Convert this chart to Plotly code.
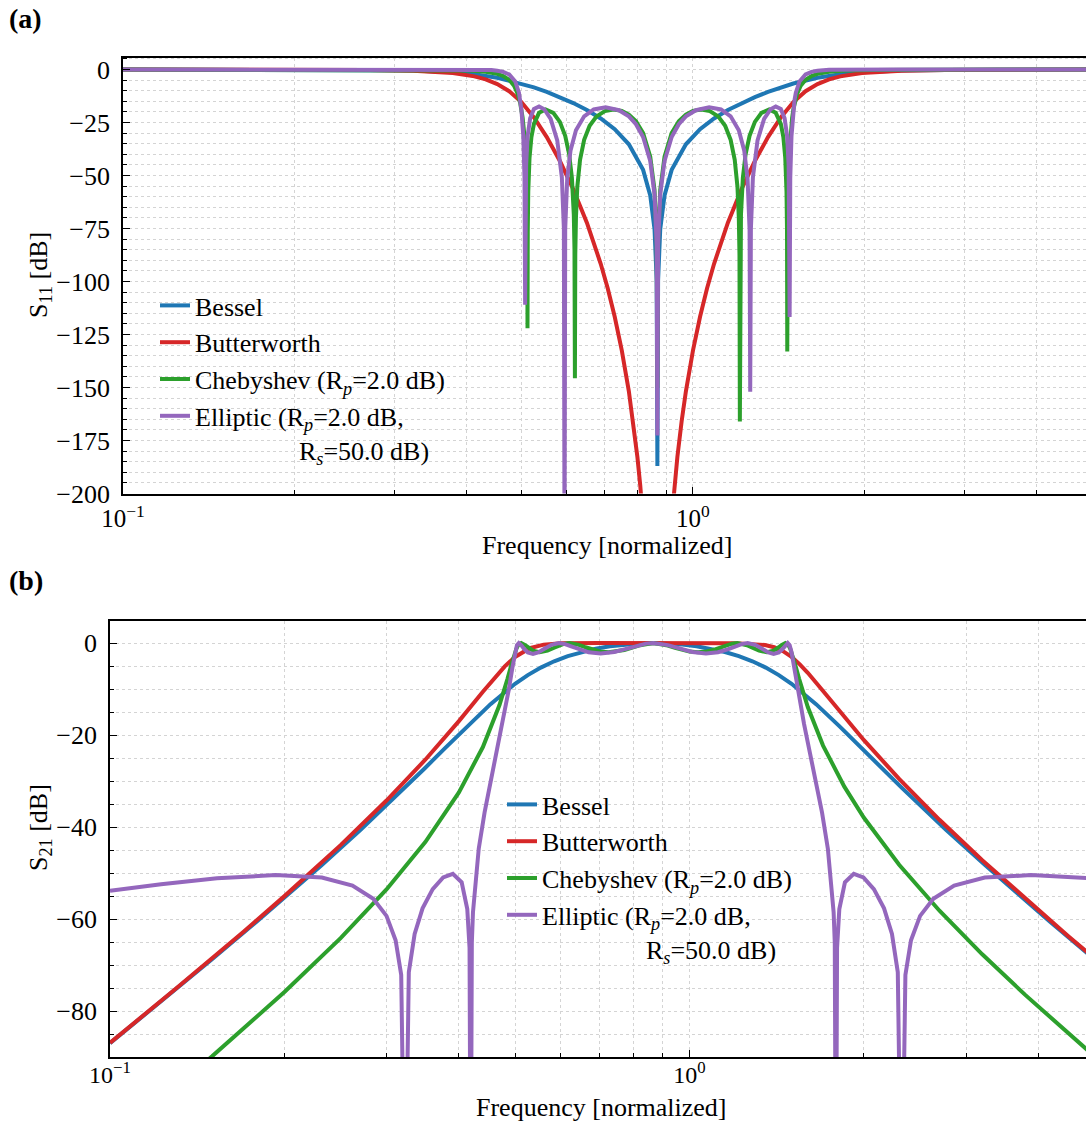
import plotly.graph_objects as go

# ---------------- Panel (a): S11 ----------------
s11_bessel_f = [0.1, 0.17945, 0.23205, 0.27069, 0.32288, 0.37899, 0.41356, 0.45357, 0.5, 0.52596,
                0.55394, 0.58408, 0.61652, 0.65139, 0.68882, 0.72892, 0.77178, 0.81747, 0.841386, 0.856083,
                0.863529, 0.866, 0.868529, 0.876083, 0.891386, 0.91747, 0.97178, 1.02892, 1.08882, 1.15139,
                1.21652, 1.28408, 1.35394, 1.42596, 1.5, 1.65357, 1.81356, 1.97899, 2.32288, 2.77069,
                3.23205, 4.17945, 5.0]
s11_bessel_db = [0, -0.016, -0.067, -0.162, -0.466, -1.262, -2.184, -3.83, -6.56, -8.39,
                 -10.54, -12.99, -15.81, -19.10, -23.07, -28.15, -35.25, -47.31, -59.4, -75.3,
                 -99.4, -187, -99.4, -75.3, -59.4, -47.31, -35.25, -28.15, -23.07, -19.10,
                 -15.81, -12.99, -10.54, -8.39, -6.56, -3.83, -2.184, -1.262, -0.466, -0.162,
                 -0.067, -0.016, 0]

s11_butter_f = [0.1, 0.17945, 0.23205, 0.27069, 0.32288, 0.349, 0.37899, 0.41356, 0.43282, 0.45357,
                0.47592, 0.5, 0.52596, 0.55394, 0.58408, 0.61652, 0.65139, 0.68882, 0.70853, 0.72892,
                0.75, 0.77178, 0.785187, 0.79885, 0.808102, 0.81747, 0.866, 0.91747, 0.928102, 0.93885,
                0.955187, 0.97178, 1.0, 1.02892, 1.05853, 1.08882, 1.15139, 1.21652, 1.28408, 1.35394,
                1.42596, 1.5, 1.57592, 1.65357, 1.73282, 1.81356, 1.97899, 2.149, 2.32288, 2.77069,
                3.23205, 4.17945, 5.0]
s11_butter_db = [0, -0.017, -0.072, -0.178, -0.543, -0.919, -1.654, -3.21, -4.62, -6.81,
                 -10.19, -15.31, -22.54, -31.87, -43.14, -56.45, -72.25, -91.6, -103.2, -116.6,
                 -132.5, -151.8, -165.9, -182.8, -196.2, -212, -300, -212, -196.2, -182.8,
                 -165.9, -151.8, -132.5, -116.6, -103.2, -91.6, -72.25, -56.45, -43.14, -31.87,
                 -22.54, -15.31, -10.19, -6.81, -4.62, -3.21, -1.654, -0.919, -0.543, -0.178,
                 -0.072, -0.017, 0]

s11_cheby_f = [0.1, 0.160913, 0.219341, 0.27069, 0.32288, 0.36347, 0.404436, 0.43282, 0.45357, 0.46453,
               0.47592, 0.48534, 0.49259, 0.49751, 0.5, 0.50251, 0.50631, 0.508866, 0.510925, 0.51196,
               0.512478, 0.512997, 0.514038, 0.516653, 0.52062, 0.52596, 0.53691, 0.551335, 0.56873, 0.58408,
               0.596769, 0.606534, 0.613164, 0.617863, 0.619552, 0.620637, 0.621588, 0.623291, 0.626716, 0.63364,
               0.644213, 0.658666, 0.677315, 0.700565, 0.725199, 0.75, 0.77178, 0.794267, 0.81747, 0.841386,
               0.856083, 0.863529, 0.866, 0.868529, 0.876083, 0.891386, 0.91747, 0.944267, 0.97178, 1.0,
               1.034199, 1.070565, 1.107315, 1.138666, 1.164213, 1.18364, 1.196716, 1.203291, 1.206588, 1.208437,
               1.210552, 1.213863, 1.223164, 1.236534, 1.256769, 1.28408, 1.31873, 1.360335, 1.39691, 1.42596,
               1.44062, 1.451653, 1.459038, 1.461997, 1.463478, 1.46496, 1.467925, 1.473866, 1.48131, 1.49251,
               1.5, 1.50751, 1.52259, 1.54534, 1.57592, 1.61453, 1.65357, 1.73282, 1.854436, 2.06347,
               2.32288, 2.77069, 3.419341, 4.660913, 5.0]
s11_cheby_db = [0, 0, 0, -0.018, -0.063, -0.165, -0.466, -1.033, -2.014, -3.008,
                -4.83, -7.61, -11.47, -15.77, -18.81, -22.78, -31.60, -41.5, -56.9, -76.6,
                -122, -76.0, -57.6, -41.6, -31.88, -25.60, -20.39, -18.81, -20.44, -24.68,
                -31.20, -40.07, -51.12, -68.4, -84.8, -145.6, -87.3, -69.5, -55.26, -42.53,
                -33.17, -26.54, -22.10, -19.56, -18.81, -19.48, -21.21, -24.39, -30.01, -41.11,
                -56.75, -80.8, -150, -80.8, -56.75, -41.11, -30.01, -24.39, -21.21, -19.48,
                -18.81, -19.56, -22.10, -26.54, -33.17, -42.53, -55.26, -69.5, -87.3, -166,
                -84.8, -68.4, -51.12, -40.07, -31.20, -24.68, -20.44, -18.81, -20.39, -25.60,
                -31.88, -41.6, -57.6, -76.0, -133, -76.6, -56.9, -41.5, -31.60, -22.78,
                -18.81, -15.77, -11.47, -7.61, -4.83, -3.008, -2.014, -1.033, -0.466, -0.165,
                -0.063, -0.018, 0, 0, 0]

s11_ellip_f = [0.1, 0.23205, 0.32288, 0.43282, 0.443, 0.45357, 0.46453, 0.47592, 0.487732, 0.495038,
               0.49751, 0.5, 0.503771, 0.50631, 0.507585, 0.509637, 0.512738, 0.517968, 0.52596, 0.53691,
               0.548179, 0.562748, 0.57787, 0.588793, 0.593561, 0.595162, 0.596769, 0.601625, 0.609837, 0.623291,
               0.644213, 0.669777, 0.702546, 0.741485, 0.77178, 0.794267, 0.81747, 0.841386, 0.856083, 0.863529,
               0.866, 0.868529, 0.876083, 0.891386, 0.91747, 0.944267, 0.97178, 1.011485, 1.067546, 1.119777,
               1.164213, 1.203291, 1.229837, 1.246625, 1.256769, 1.260162, 1.263561, 1.273793, 1.29787, 1.332748,
               1.368179, 1.39691, 1.42596, 1.447968, 1.462738, 1.471637, 1.477585, 1.48131, 1.488771, 1.5,
               1.50751, 1.515038, 1.537732, 1.57592, 1.61453, 1.65357, 1.693, 1.73282, 2.32288, 3.23205,
               5.0]
s11_ellip_db = [0, 0, 0, -0.101, -0.251, -0.533, -1.093, -2.325, -5.60, -10.88,
                -14.11, -18.81, -31.32, -51.4, -111, -45.1, -31.28, -22.95, -18.60, -17.43,
                -18.69, -23.25, -33.39, -50.9, -75.1, -230, -75.3, -51.5, -38.12, -28.59,
                -22.05, -18.82, -17.79, -19.17, -22.10, -25.75, -31.77, -43.15, -58.9, -82.9,
                -172.6, -82.9, -58.9, -43.15, -31.77, -25.75, -22.10, -19.17, -17.79, -18.82,
                -22.05, -28.59, -38.12, -51.5, -75.3, -152, -75.1, -50.9, -33.39, -23.25,
                -18.69, -17.43, -18.60, -22.95, -31.28, -45.1, -116.7, -51.4, -31.32, -18.81,
                -14.11, -10.88, -5.60, -2.325, -1.093, -0.533, -0.251, -0.101, 0, 0,
                0]

# ---------------- Panel (b): S21 ----------------
s21_bessel_f = [0.1, 0.13314, 0.15, 0.17945, 0.23205, 0.27069, 0.32288, 0.349, 0.37899, 0.41356,
                0.45357, 0.5, 0.52596, 0.55394, 0.58408, 0.61652, 0.65139, 0.68882, 0.72892, 0.77178,
                0.81747, 0.866, 0.91747, 0.97178, 1.02892, 1.08882, 1.15139, 1.21652, 1.28408, 1.35394,
                1.42596, 1.5, 1.65357, 1.81356, 1.97899, 2.149, 2.32288, 2.77069, 3.23205, 4.17945,
                5.0]
s21_bessel_db = [-87.0, -74.18, -68.76, -60.48, -48.23, -40.59, -31.43, -27.26, -22.786, -18.057,
                 -13.275, -8.861, -6.962, -5.326, -3.959, -2.839, -1.935, -1.2217, -0.6806, -0.3005,
                 -0.0749, 0, -0.0749, -0.3005, -0.6806, -1.2217, -1.935, -2.839, -3.959, -5.326,
                 -6.962, -8.861, -13.275, -18.057, -22.786, -27.26, -31.43, -40.59, -48.23, -60.48,
                 -68.76]

s21_butter_f = [0.1, 0.13, 0.17, 0.2, 0.25, 0.3, 0.35, 0.4, 0.44, 0.47,
                0.48, 0.5, 0.52, 0.53, 0.56, 0.6, 0.7, 0.866, 1.0, 1.2,
                1.35, 1.4, 1.45, 1.5, 1.55, 1.6, 1.7, 1.85, 2.0, 2.3,
                2.7, 3.2, 3.8, 4.5, 5.0]
s21_butter_db = [-86.92, -75.12, -62.76, -55.02, -43.93, -34.24, -25.36, -16.97, -10.59, -6.30,
                 -5.07, -3.01, -1.60, -1.12, -0.345, -0.058, -0.001, 0, 0, -0.017,
                 -0.414, -0.907, -1.76, -3.01, -4.62, -6.47, -10.41, -16.08, -21.12, -29.53,
                 -38.42, -47.21, -55.66, -63.68, -68.57]

s21_cheby_f = [0.13, 0.15, 0.2, 0.25, 0.3, 0.35, 0.4, 0.44, 0.47, 0.47592,
               0.48534, 0.49259, 0.49751, 0.5, 0.50251, 0.50631, 0.512478, 0.52062, 0.52596, 0.53691,
               0.551335, 0.56873, 0.58408, 0.596769, 0.606534, 0.620637, 0.63364, 0.644213, 0.658666, 0.677315,
               0.700565, 0.725199, 0.75, 0.77178, 0.794267, 0.81747, 0.866, 0.91747, 0.944267, 0.97178,
               1.0, 1.034199, 1.070565, 1.107315, 1.138666, 1.164213, 1.18364, 1.208437, 1.236534, 1.256769,
               1.28408, 1.31873, 1.360335, 1.39691, 1.42596, 1.44062, 1.463478, 1.48131, 1.49251, 1.5,
               1.50751, 1.52259, 1.54534, 1.57592, 1.6, 1.7, 1.85, 2.0, 2.3, 2.7,
               3.2, 3.8, 4.5, 5.0]
s21_cheby_db = [-96.5, -89.86, -75.88, -64.17, -53.56, -43.26, -32.46, -22.61, -13.46, -11.35,
                -7.70, -4.755, -2.853, -2.0, -1.264, -0.457, 0, -0.443, -0.912, -1.667,
                -2.0, -1.657, -1.015, -0.478, -0.172, 0, -0.130, -0.381, -0.819, -1.366,
                -1.834, -2.0, -1.851, -1.516, -1.050, -0.549, 0, -0.549, -1.050, -1.516,
                -1.851, -2.0, -1.834, -1.366, -0.819, -0.381, -0.130, 0, -0.172, -0.478,
                -1.015, -1.657, -2.0, -1.667, -0.912, -0.443, 0, -0.457, -1.264, -2.0,
                -2.853, -4.755, -7.70, -11.35, -13.9, -22.29, -31.22, -37.98, -48.19, -58.19,
                -67.67, -76.55, -84.85, -89.86]

s21_ellip_f = [0.1, 0.1225, 0.15297, 0.193143, 0.23205, 0.26205, 0.28467, 0.3, 0.311066, 0.318059,
               0.32288, 0.327823, 0.335496, 0.346225, 0.360492, 0.37579, 0.39052, 0.404436, 0.413555, 0.417294,
               0.41919, 0.42109, 0.42301, 0.43282, 0.443, 0.45357, 0.46453, 0.47592, 0.487732, 0.495038,
               0.5, 0.503771, 0.507585, 0.512738, 0.517968, 0.52596, 0.53691, 0.548179, 0.562748, 0.57787,
               0.595162, 0.609837, 0.623291, 0.644213, 0.669777, 0.702546, 0.741485, 0.77178, 0.794267, 0.81747,
               0.841386, 0.866, 0.891386, 0.91747, 0.944267, 0.97178, 1.011485, 1.067546, 1.119777, 1.164213,
               1.203291, 1.229837, 1.260162, 1.29787, 1.332748, 1.368179, 1.39691, 1.42596, 1.447968, 1.462738,
               1.477585, 1.488771, 1.5, 1.515038, 1.537732, 1.57592, 1.61453, 1.65357, 1.693, 1.73282,
               1.77301, 1.78109, 1.78919, 1.797294, 1.813555, 1.854436, 1.92052, 1.99579, 2.080492, 2.166225,
               2.235496, 2.287823, 2.32288, 2.358059, 2.411066, 2.5, 2.63467, 2.86205, 3.23205, 3.883143,
               4.90297, 6.1225]
s21_ellip_db = [-53.84, -52.42, -51.15, -50.45, -50.99, -52.73, -55.58, -59.32, -64.60, -72.13,
                -130, -71.57, -63.23, -57.68, -53.50, -50.96, -50.17, -52.01, -57.84, -66.27,
                -130, -65.15, -58.55, -44.70, -36.82, -30.27, -24.04, -17.53, -10.12, -5.11,
                -2.0, -0.472, 0, -0.474, -1.239, -2.051, -2.350, -2.029, -1.197, -0.372,
                0, -0.216, -0.647, -1.375, -1.999, -2.253, -1.920, -1.366, -0.897, -0.448,
                -0.121, 0, -0.121, -0.448, -0.897, -1.366, -1.920, -2.253, -1.999, -1.375,
                -0.647, -0.216, 0, -0.372, -1.197, -2.029, -2.350, -2.051, -1.239, -0.474,
                0, -0.472, -2.0, -5.11, -10.12, -17.53, -24.04, -30.27, -36.82, -44.70,
                -58.55, -65.15, -130, -66.27, -57.84, -52.01, -50.17, -50.96, -53.50, -57.68,
                -63.23, -71.57, -130, -72.13, -64.60, -59.32, -55.58, -52.73, -50.99, -50.45,
                -51.15, -52.42]

names = ["Bessel", "Butterworth", "Chebyshev (R<sub><i>p</i></sub>=2.0 dB)",
         "Elliptic (R<sub><i>p</i></sub>=2.0 dB,<br>" + "&nbsp;" * 16 + "R<sub><i>s</i></sub>=50.0 dB)"]
colors = ["#1f77b4", "#d62728", "#2ca02c", "#9467bd"]

FONT = "Liberation Serif, Times New Roman, serif"
FS = 26
W, H = 1086, 1121

fig = go.Figure()
s11 = [(s11_bessel_f, s11_bessel_db), (s11_butter_f, s11_butter_db),
       (s11_cheby_f, s11_cheby_db), (s11_ellip_f, s11_ellip_db)]
s21 = [(s21_bessel_f, s21_bessel_db), (s21_butter_f, s21_butter_db),
       (s21_cheby_f, s21_cheby_db), (s21_ellip_f, s21_ellip_db)]
for i, (fx, fy) in enumerate(s11):
    fig.add_trace(go.Scatter(x=fx, y=fy, mode="lines", name=names[i],
                             line=dict(color=colors[i], width=4),
                             xaxis="x", yaxis="y", legend="legend", legendgroup="a%d" % i))
for i, (fx, fy) in enumerate(s21):
    fig.add_trace(go.Scatter(x=fx, y=fy, mode="lines", name=names[i],
                             line=dict(color=colors[i], width=4),
                             xaxis="x2", yaxis="y2", legend="legend2", legendgroup="b%d" % i))

GRIDC = "#d4d4d4"
grid = dict(showgrid=True, gridcolor=GRIDC, griddash="dot", gridwidth=1)
minor_x = dict(ticks="inside", ticklen=4, tickwidth=1.2, tickcolor="black",
               tickvals=[0.2, 0.3, 0.4, 0.5, 0.6, 0.7, 0.8, 0.9, 2, 3, 4],
               showgrid=True, gridcolor=GRIDC, griddash="dot", gridwidth=1)
tickfont = dict(family=FONT, size=FS, color="black")

def xax(domain, anchor, rng, standoff, fsz):
    return dict(type="log", range=rng, domain=domain, anchor=anchor, automargin=False,
                showline=True, linecolor="black", linewidth=1.6, mirror=True,
                ticks="inside", ticklen=7, tickwidth=1.2, tickcolor="black",
                tickmode="array", tickvals=[0.1, 1],
                ticktext=["10<sup>\u22121</sup>", "10<sup>0</sup>"],
                tickfont=dict(family=FONT, size=fsz, color="black"),
                ticklabelstandoff=standoff,
                zeroline=False, minor=minor_x, **grid)

def yax(domain, anchor, rng, vals, mdt):
    return dict(range=rng, domain=domain, anchor=anchor, automargin=False,
                showline=True, linecolor="black", linewidth=1.6, mirror=False,
                ticks="inside", ticklen=7, tickwidth=1.2, tickcolor="black",
                tickmode="array", tickvals=vals,
                ticktext=[("\u2212%d" % -v) if v < 0 else "0" for v in vals],
                tickfont=tickfont, zeroline=False, ticklabelstandoff=6,
                minor=dict(dtick=mdt, ticks="inside", ticklen=4, tickwidth=1.2, tickcolor="black",
                           showgrid=True, gridcolor=GRIDC, griddash="dot", gridwidth=1),
                **grid)

ya_dom = [1 - 493.5 / H, 1 - 57.5 / H]
yb_dom = [1 - 1057 / H, 1 - 621 / H]

legfont = dict(family=FONT, size=FS, color="black")
fig.update_layout(
    width=W, height=H, margin=dict(l=0, r=0, t=0, b=0, autoexpand=False),
    plot_bgcolor="white", paper_bgcolor="white",
    xaxis=xax([123 / W, 1], "y", [-1, 0.6895], 2, 25),
    yaxis=yax(ya_dom, "x", [-200, 5.7], [0, -25, -50, -75, -100, -125, -150, -175, -200], 5),
    xaxis2=xax([110 / W, 1], "y2", [-1, 0.6842], -5, 24),
    yaxis2=yax(yb_dom, "x2", [-90, 4.8], [0, -20, -40, -60, -80], 5),
    legend=dict(x=155 / W, y=1 - 282 / H, xanchor="left", yanchor="top",
                bgcolor="rgba(0,0,0,0)", font=legfont, tracegroupgap=12, valign="top",
                traceorder="normal"),
    legend2=dict(x=502 / W, y=1 - 781 / H, xanchor="left", yanchor="top",
                 bgcolor="rgba(0,0,0,0)", font=legfont, tracegroupgap=12, valign="top",
                 traceorder="normal"),
    showlegend=True,
)

ann = [
    dict(text="<b>(a)</b>", x=7 / W, y=1 - 18 / H, xanchor="left", yanchor="middle", size=28),
    dict(text="<b>(b)</b>", x=7 / W, y=1 - 580 / H, xanchor="left", yanchor="middle", size=28),
    dict(text="Frequency [normalized]", x=607 / W, y=1 - 545 / H, xanchor="center", yanchor="middle", size=FS),
    dict(text="Frequency [normalized]", x=601 / W, y=1 - 1107 / H, xanchor="center", yanchor="middle", size=FS),
    dict(text="S<sub>11</sub> [dB]", x=40 / W, y=1 - 275 / H, xanchor="center", yanchor="middle", textangle=-90, size=FS),
    dict(text="S<sub>21</sub> [dB]", x=40 / W, y=1 - 828 / H, xanchor="center", yanchor="middle", textangle=-90, size=FS),
]
anns = []
for a in ann:
    sz = a.pop("size")
    a.update(xref="paper", yref="paper", showarrow=False, font=dict(family=FONT, size=sz, color="black"))
    anns.append(a)
fig.update_layout(annotations=anns)

fig.write_html("out.html")
